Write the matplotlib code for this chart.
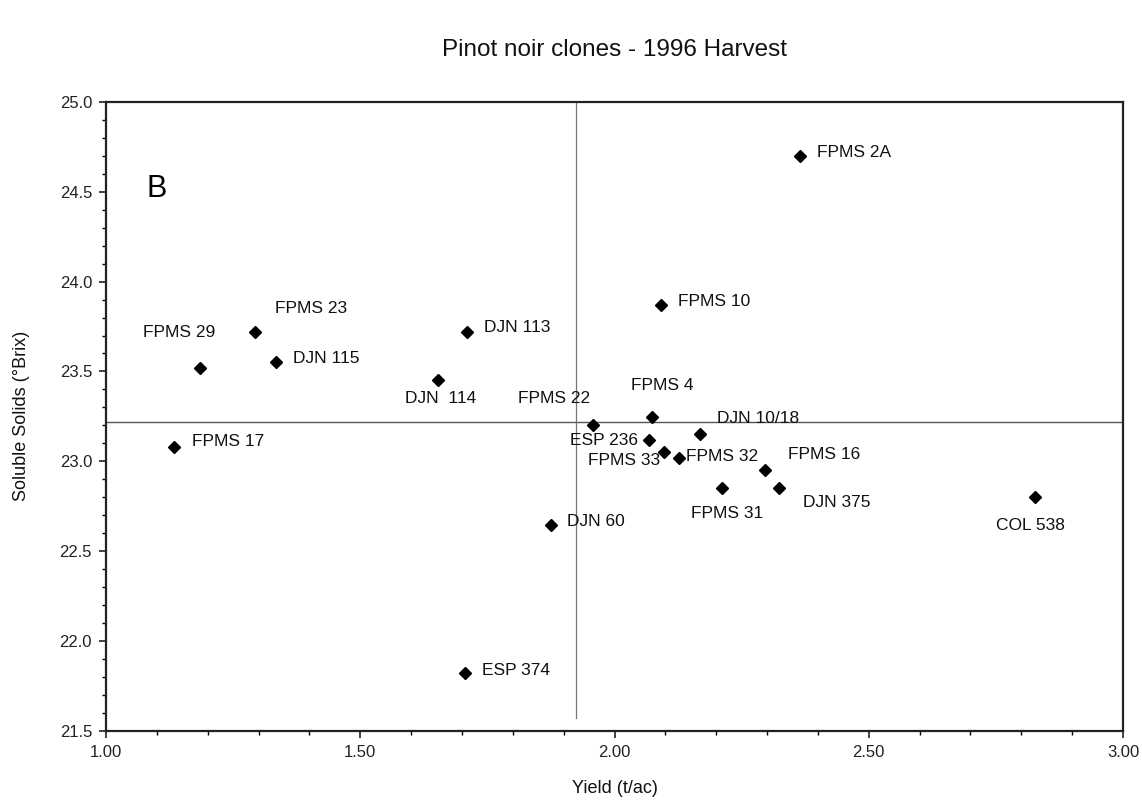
import matplotlib.pyplot as plt
from matplotlib.ticker import MultipleLocator, FormatStrFormatter

# Pinot noir clones, 1996 harvest: yield vs soluble solids
clones = ['FPMS 2A', 'FPMS 10', 'FPMS 23', 'FPMS 29', 'DJN 115', 'DJN 113',
          'DJN  114', 'FPMS 17', 'FPMS 22', 'FPMS 4', 'ESP 236', 'DJN 10/18',
          'FPMS 33', 'FPMS 32', 'FPMS 16', 'DJN 375', 'FPMS 31', 'DJN 60',
          'ESP 374', 'COL 538']
yield_tac = [2.365, 2.091, 1.293, 1.185, 1.334, 1.709,
             1.652, 1.134, 1.958, 2.073, 2.068, 2.168,
             2.097, 2.127, 2.295, 2.324, 2.211, 1.875,
             1.706, 2.827]
brix = [24.70, 23.87, 23.72, 23.52, 23.55, 23.72,
        23.45, 23.08, 23.20, 23.245, 23.12, 23.15,
        23.05, 23.02, 22.95, 22.85, 22.85, 22.645,
        21.82, 22.80]

# mean lines
mean_yield = 1.924
mean_brix = 23.22

# label placement (offset in pixels, horizontal alignment)
label_pos = {
    'FPMS 2A': (17, 3, 'left'), 'FPMS 10': (17, 3, 'left'),
    'FPMS 23': (20, 23, 'left'), 'FPMS 29': (-21, 35, 'center'),
    'DJN 115': (17, 4, 'left'), 'DJN 113': (17, 4, 'left'),
    'DJN  114': (3, -18, 'center'), 'FPMS 17': (18, 5, 'left'),
    'FPMS 22': (-3, 27, 'right'), 'FPMS 4': (11, 32, 'center'),
    'ESP 236': (-11, -1, 'right'), 'DJN 10/18': (17, 16, 'left'),
    'FPMS 33': (-4, -8, 'right'), 'FPMS 32': (7, 1, 'left'),
    'FPMS 16': (23, 16, 'left'), 'DJN 375': (24, -14, 'left'),
    'FPMS 31': (5, -25, 'center'), 'DJN 60': (16, 4, 'left'),
    'ESP 374': (17, 3, 'left'), 'COL 538': (-5, -28, 'center'),
}

plt.rcParams['font.family'] = ['Liberation Sans', 'DejaVu Sans']

fig = plt.figure(figsize=(11.42, 8.02), dpi=100)
ax = fig.add_axes([0.0928, 0.0889, 0.8906, 0.7839])

ax.axhline(mean_brix, color='#555555', lw=1.0, zorder=1)
ax.axvline(mean_yield, ymin=0.02, ymax=1.0, color='#777777', lw=0.9, zorder=1)

ax.plot(yield_tac, brix, 'D', color='black', markersize=6, zorder=3)

for name, x, y in zip(clones, yield_tac, brix):
    dx, dy, ha = label_pos[name]
    ax.annotate(name, (x, y), xytext=(dx, dy), textcoords='offset pixels',
                ha=ha, va='center', fontsize=12.5, color='#111111')

ax.set_xlim(1.0, 3.0)
ax.set_ylim(21.5, 25.0)
ax.xaxis.set_major_locator(MultipleLocator(0.5))
ax.xaxis.set_minor_locator(MultipleLocator(0.1))
ax.xaxis.set_major_formatter(FormatStrFormatter('%.2f'))
ax.yaxis.set_major_locator(MultipleLocator(0.5))
ax.yaxis.set_minor_locator(MultipleLocator(0.1))
ax.yaxis.set_major_formatter(FormatStrFormatter('%.1f'))
ax.tick_params(axis='both', which='major', direction='out', length=5,
               width=1.2, labelsize=12, colors='#222222', pad=5)
ax.tick_params(axis='both', which='minor', direction='out', length=3, width=1)
for s in ax.spines.values():
    s.set_linewidth(1.6)
    s.set_color('#222222')

ax.set_xlabel('Yield (t/ac)', fontsize=13, color='#111111')
ax.xaxis.set_label_coords(0.5, -0.079)
ax.set_ylabel('Soluble Solids (°Brix)', fontsize=13, color='#111111')
ax.yaxis.set_label_coords(-0.075, 0.5)

ax.text(0.05, 0.862, 'B', transform=ax.transAxes, fontsize=22,
        ha='center', va='center')

fig.text(0.5385, 1 - 50 / 802, 'Pinot noir clones - 1996 Harvest',
         fontsize=17.5, ha='center', va='center', color='#111111')

plt.savefig('out.png', dpi=100)
